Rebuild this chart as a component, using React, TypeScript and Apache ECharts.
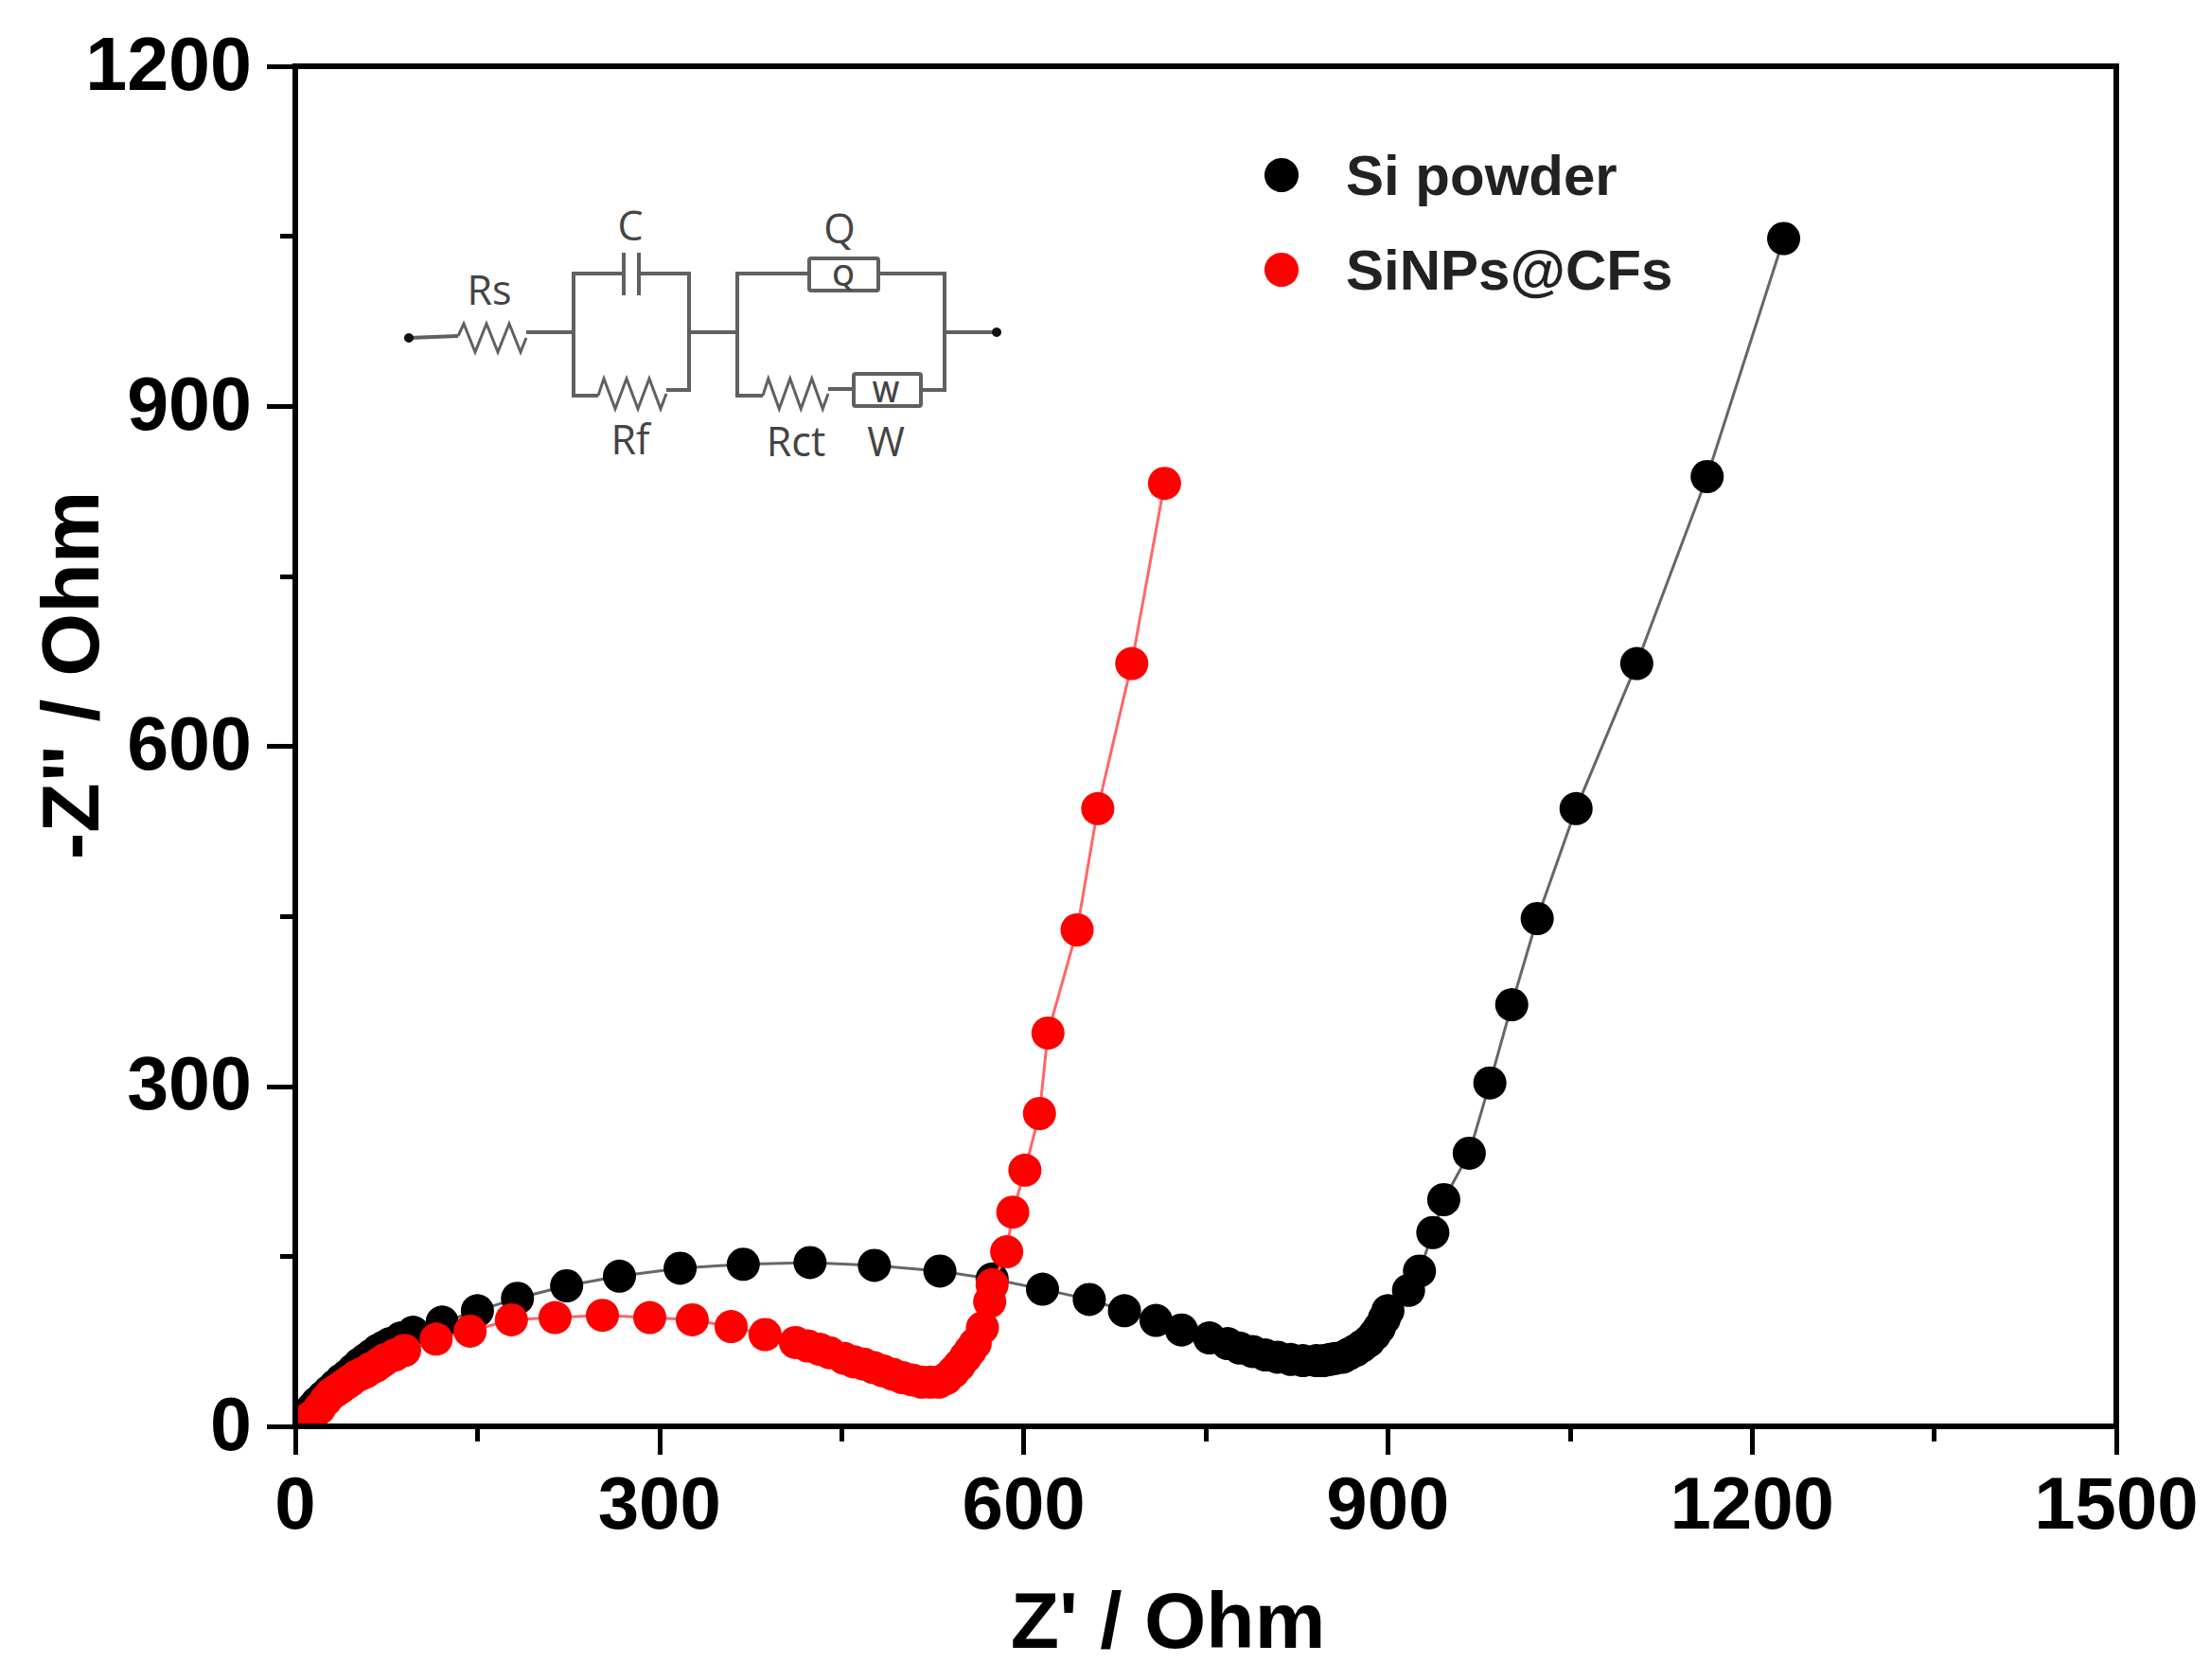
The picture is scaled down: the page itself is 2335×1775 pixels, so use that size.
import React, { useEffect, useRef } from "react";
import * as echarts from "echarts";

const seriesNames = ["Si powder", "SiNPs@CFs"];
const xTicksMax = 1500;
const yTicksMax = 1200;

const siPowderX = [5,9,14,18,23,28,33,38,43,48,53,58,63,68,73,78,87,97,121,150,183,223.5,267,317,369,424,477,531,574,615.5,654,683,709,730,753,768,778,788.5,799,809,820,830,841,847,852,857,863,868,873.5,879,884,889,893,897,900,917,926,937,946,967,984,1002,1023,1055,1105,1163,1226];
const siPowderY = [6,10,16,21,26,31,36,41,45,50,55,59,63,67,70,73,78,83,92,102,113,124,132.5,139.5,143,144.5,142,137,130,121,112,102,93.5,85,78,73,69,66,63,61,59,58,58,58,59,60,61,64,67,71,75,81,87,95,102,120,137,171,200,241,303,372,448,545,673,838,1048];
const sinpsX = [4,9,14,20,25,29,33,37,41,45,50,54,58,62,66,70,74,82,90,116,144,178,214,253,292,327,359,387,412,422,432,440,452,460,468,476,484,492,500,508,516,523,530,536,542,547,552,556,560,566,572,574,586,591,601,613,620,644,661,689,716];
const sinpsY = [4,5,9,16,23,28,31,34,37,40,44,46,48,51,53,56,59,63,67,77,84,94,96,98,96,94,88,81,74,71,68,65,60,57,55,52,49,46,43,41,39,39,39,42,48,54,61,67,73,87,110,125,154,189,226,276,347,438,545,673,832];

const FONT = "'Liberation Sans', Arial, sans-serif";
const CIRCUIT_FONT = "'Open Sans', 'Noto Sans', sans-serif";
const WIRE = "#606060";

const wire = (points: number[][], lineWidth = 4) => ({
  type: "polyline",
  z: 6,
  shape: { points },
  style: { stroke: WIRE, lineWidth, fill: "none" },
});

const resistor = (x0: number, x1: number, yMid: number, amp: number, yStart = yMid) => {
  const pts: number[][] = [[x0, yStart]];
  const n = 6;
  const step = (x1 - x0) / n;
  for (let i = 0; i < n; i++) {
    pts.push([x0 + step * (i + 0.5), yMid + (i % 2 === 0 ? -amp : amp)]);
  }
  pts.push([x1, yMid]);
  return wire(pts, 3);
};

const label = (text: string, x: number, y: number, size = 43, weight = "normal") => ({
  type: "text",
  z: 6,
  x,
  y,
  style: {
    text,
    fill: "#444444",
    font: `${weight} ${size}px ${CIRCUIT_FONT}`,
    align: "center",
    verticalAlign: "middle",
  },
});

const box = (x: number, y: number, width: number, height: number) => ({
  type: "rect",
  z: 6,
  shape: { x, y, width, height, r: 2 },
  style: { stroke: WIRE, lineWidth: 4, fill: "#ffffff" },
});

const dot = (cx: number, cy: number) => ({
  type: "circle",
  z: 6,
  shape: { cx, cy, r: 5 },
  style: { fill: "#111111" },
});

const mask = (x: number, y: number, width: number, height: number) => ({
  type: "rect",
  z: 5,
  shape: { x, y, width, height },
  style: { fill: "#ffffff" },
});

const circuit = [
  wire([[432, 357], [484, 355]]),
  resistor(484, 556, 357, 15, 355),
  wire([[556, 351], [606, 351]]),
  wire([[632, 418], [606, 418], [606, 289], [659, 289]]),
  wire([[675, 289], [728, 289], [728, 412], [704, 412]]),
  wire([[659, 267], [659, 312]]),
  wire([[675, 267], [675, 312]]),
  resistor(632, 704, 416, 16, 418),
  wire([[728, 351], [779, 351]]),
  wire([[806, 418], [779, 418], [779, 289], [855, 289]]),
  wire([[928, 289], [998, 289], [998, 412], [973, 412]]),
  box(855, 273, 73, 34),
  resistor(806, 875, 416, 16, 418),
  wire([[875, 411], [902, 411]]),
  box(902, 395, 71, 34),
  wire([[998, 351], [1053, 351]]),
  dot(432, 357),
  dot(1053, 351),
  label("Rs", 517, 305),
  label("C", 666, 237),
  label("Q", 887, 240),
  label("Q", 891, 290, 30, "600"),
  label("Rf", 666, 463),
  label("Rct", 841, 465),
  label("W", 936, 465),
  label("W", 936, 413, 30, "600"),
];

const plainNumber = (v: number) => String(v);

const axisCommon = {
  type: "value" as const,
  min: 0,
  interval: 300,
  z: 10,
  nameLocation: "middle" as const,
  nameMoveOverlap: false,
  splitLine: { show: false },
  axisLine: { show: true, onZero: false, lineStyle: { color: "#000", width: 6 } },
  axisTick: { show: true, inside: false, length: 30, lineStyle: { color: "#000", width: 5 } },
  minorTick: { show: true, splitNumber: 2, length: 16, lineStyle: { color: "#000", width: 5 } },
};

export default function App() {
  const ref = useRef<HTMLDivElement>(null);
  useEffect(() => {
    document.body.style.margin = "0";
    const chart = echarts.init(ref.current!, undefined, { renderer: "svg" });
    chart.setOption({
      animation: false,
      backgroundColor: "#ffffff",
      grid: {
        left: 312,
        top: 70,
        width: 1924,
        height: 1437,
        outerBoundsMode: "none",
        show: true,
        borderColor: "#000",
        borderWidth: 6,
        backgroundColor: "transparent",
      },
      legend: {
        data: seriesNames,
        orient: "vertical",
        left: 1331,
        top: 150,
        icon: "circle",
        itemWidth: 36,
        itemHeight: 36,
        itemGap: 40,
        textStyle: {
          fontFamily: FONT,
          fontWeight: "bold",
          fontSize: 60,
          color: "#222222",
          padding: [0, 0, 0, 45],
        },
      },
      xAxis: {
        ...axisCommon,
        max: xTicksMax,
        name: "Z' / Ohm",
        nameGap: 163,
        nameTextStyle: {
          fontFamily: FONT,
          fontWeight: "bold",
          fontSize: 84,
          color: "#000",
          padding: [0, 80, 0, 0],
        },
        axisLabel: { margin: 42, fontFamily: FONT, fontWeight: "bold", fontSize: 78, color: "#000", formatter: plainNumber },
      },
      yAxis: {
        ...axisCommon,
        max: yTicksMax,
        name: '-Z" / Ohm',
        nameGap: 195,
        nameTextStyle: {
          fontFamily: FONT,
          fontWeight: "bold",
          fontSize: 86,
          color: "#000",
          padding: [0, 0, 0, 150],
        },
        axisLabel: { margin: 46, fontFamily: FONT, fontWeight: "bold", fontSize: 79, color: "#000", verticalAlign: "bottom", lineHeight: 6, formatter: plainNumber },
      },
      series: [
        {
          name: seriesNames[0],
          type: "line",
          z: 2,
          data: siPowderX.map((x, i) => [x, siPowderY[i]]),
          symbol: "circle",
          symbolSize: 35,
          showSymbol: true,
          showAllSymbol: true,
          clip: false,
          itemStyle: { color: "#000000" },
          lineStyle: { color: "#666666", width: 3 },
        },
        {
          name: seriesNames[1],
          type: "line",
          z: 3,
          data: sinpsX.map((x, i) => [x, sinpsY[i]]),
          symbol: "circle",
          symbolSize: 35,
          showSymbol: true,
          showAllSymbol: true,
          clip: false,
          itemStyle: { color: "#ff0000" },
          lineStyle: { color: "#ff6666", width: 3 },
        },
      ],
      graphic: { elements: [mask(270, 1440, 42, 80), mask(270, 1507, 100, 25), ...circuit] },
    });
    return () => chart.dispose();
  }, []);
  return <div ref={ref} style={{ width: 2335, height: 1775, display: "block" }} />;
}
